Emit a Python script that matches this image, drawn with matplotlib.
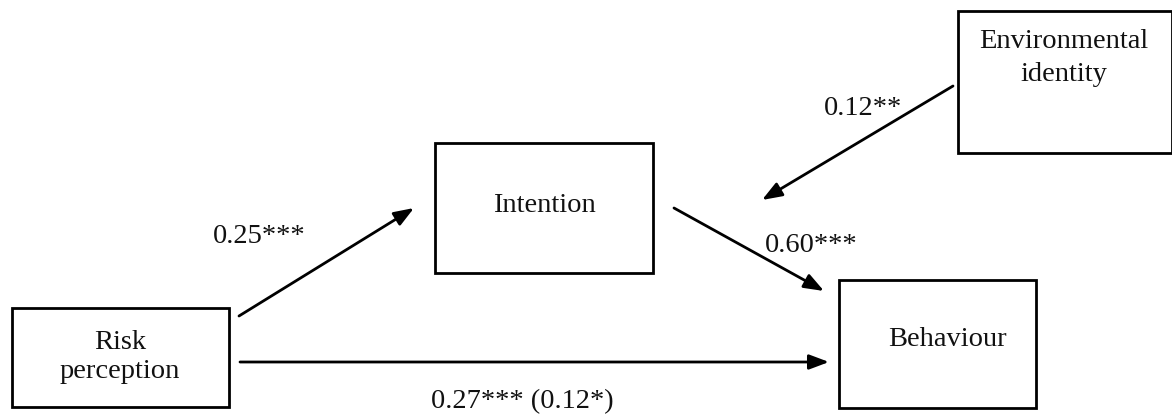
import matplotlib.pyplot as plt
from matplotlib.patches import Rectangle

# Nodes of the path model and the path coefficients
nodes = ['Risk\nperception', 'Intention', 'Behaviour', 'Environmental\nidentity']
paths = [('Risk\nperception', 'Intention'),
         ('Intention', 'Behaviour'),
         ('Environmental\nidentity', 'Intention->Behaviour'),
         ('Risk\nperception', 'Behaviour')]
coefs = ['0.25***', '0.60***', '0.12**', '0.27*** (0.12*)']

# layout in pixel coordinates (x0, y0, x1, y1), y downwards
box_xy = {
    'Risk\nperception': (12, 308, 229, 407),
    'Intention': (435, 143, 653, 273),
    'Behaviour': (839, 280, 1036, 408),
    'Environmental\nidentity': (958, 11, 1172, 153),
}
text_xy = {
    'Risk\nperception': (120, 357),
    'Intention': (544, 206),
    'Behaviour': (947, 339),
    'Environmental\nidentity': (1064, 58),
}
spacing = {'Risk\nperception': 1.25, 'Intention': 1.2, 'Behaviour': 1.2,
           'Environmental\nidentity': 1.4}
arrow_xy = [((239, 316), (414, 208)),
            ((674, 208), (824, 291)),
            ((953, 86), (762, 200)),
            ((240, 362), (829, 362))]
# label baselines
coef_xy = [(259, 243), (811, 252), (863, 115), (522, 408)]

plt.rcParams['font.family'] = ['Liberation Serif', 'DejaVu Serif']

fig = plt.figure(figsize=(11.72, 4.16), dpi=100)
ax = fig.add_axes([0, 0, 1, 1])
ax.set_xlim(0, 1172)
ax.set_ylim(416, 0)
ax.axis('off')

for name in nodes:
    x0, y0, x1, y1 = box_xy[name]
    ax.add_patch(Rectangle((x0, y0), x1 - x0, y1 - y0, fill=False,
                           edgecolor='black', linewidth=2.0))
    tx, ty = text_xy[name]
    ax.text(tx, ty, name, ha='center', va='center', fontsize=20.5,
            linespacing=spacing[name], color='#111111')

for (start, end), lab, (lx, ly) in zip(arrow_xy, coefs, coef_xy):
    ax.annotate('', xy=end, xytext=start,
                arrowprops=dict(arrowstyle='-|>,head_length=1.2,head_width=0.45',
                                color='black', lw=2.0, shrinkA=0, shrinkB=0))
    ax.text(lx, ly, lab, ha='center', va='baseline', fontsize=20.5,
            color='#111111')

fig.savefig('out.png', dpi=100)
